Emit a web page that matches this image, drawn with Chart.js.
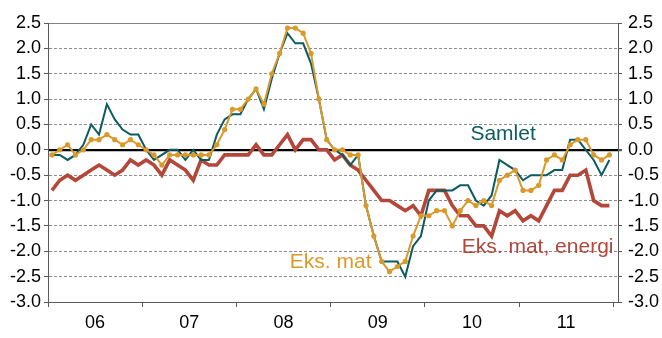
<!DOCTYPE html>
<html>
<head>
<meta charset="utf-8">
<script src="https://cdn.jsdelivr.net/npm/chart.js@4/dist/chart.umd.min.js"></script>
<style>
  html, body { margin: 0; padding: 0; background: #fff; }
  #wrap { width: 662px; height: 338px; }
</style>
</head>
<body>
<div id="wrap"><canvas id="c" width="662" height="338"></canvas></div>
<script>
// Year labels shown under the x axis (one per 12 monthly observations)
const yearLabels = ['06', '07', '08', '09', '10', '11'];

// Monthly readings, Jan 2006 - Dec 2011 (percent)
const samlet = [
  -0.1, -0.1, -0.2, -0.1, 0.1, 0.5, 0.3, 0.9, 0.6, 0.4, 0.3, 0.3,
  0.0, -0.2, -0.1, 0.0, 0.0, -0.2, 0.0, -0.2, -0.2, 0.3, 0.6, 0.7,
  0.7, 1.0, 1.2, 0.8, 1.4, 1.9, 2.3, 2.1, 2.1, 1.7, 1.0, 0.2,
  0.0, -0.1, -0.3, -0.1, -1.1, -1.7, -2.2, -2.2, -2.2, -2.5, -1.9, -1.7,
  -1.0, -0.8, -0.8, -0.8, -0.7, -0.7, -1.0, -1.1, -0.9, -0.2, -0.3, -0.4,
  -0.6, -0.5, -0.5, -0.5, -0.4, -0.4, 0.2, 0.2, 0.0, -0.2, -0.5, -0.2
];
const eksMat = [
  -0.1, 0.0, 0.1, -0.1, 0.0, 0.2, 0.2, 0.3, 0.2, 0.1, 0.2, 0.1,
  0.0, -0.1, -0.3, -0.1, -0.1, -0.1, -0.1, -0.1, -0.1, 0.1, 0.4, 0.8,
  0.8, 1.0, 1.2, 0.9, 1.5, 1.9, 2.4, 2.4, 2.3, 1.9, 1.0, 0.2,
  0.0, 0.0, -0.1, -0.1, -1.1, -1.7, -2.2, -2.4, -2.3, -2.2, -1.7, -1.3,
  -1.3, -1.2, -1.2, -1.5, -1.2, -1.0, -1.1, -1.0, -1.1, -0.6, -0.5, -0.4,
  -0.8, -0.8, -0.7, -0.2, -0.1, -0.2, 0.1, 0.2, 0.2, -0.1, -0.2, -0.1
];
const eksMatEnergi = [
  -0.8, -0.6, -0.5, -0.6, -0.5, -0.4, -0.3, -0.4, -0.5, -0.4, -0.2, -0.3,
  -0.2, -0.3, -0.5, -0.2, -0.3, -0.4, -0.6, -0.2, -0.3, -0.3, -0.1, -0.1,
  -0.1, -0.1, 0.1, -0.1, -0.1, 0.1, 0.3, 0.0, 0.2, 0.2, 0.0, 0.0,
  -0.2, -0.1, -0.3, -0.4, -0.6, -0.8, -1.0, -1.0, -1.1, -1.2, -1.1, -1.3,
  -0.8, -0.8, -0.8, -1.1, -1.3, -1.3, -1.5, -1.5, -1.7, -1.2, -1.3, -1.2,
  -1.4, -1.3, -1.4, -1.1, -0.8, -0.8, -0.5, -0.5, -0.4, -1.0, -1.1, -1.1
];

// Series names
const seriesNames = ['Samlet', 'Eks. mat', 'Eks. mat, energi'];

const TEAL = '#0b5b60';
const GOLD = '#d99a2b';
const BRICK = '#b3473a';
const AXIS = '#595959';
const FONT = '"Liberation Sans", Arial, Helvetica, sans-serif';

const toPoints = arr => arr.map((v, i) => ({ x: i, y: v }));

// Year boundaries (tick marks) and year centres (labels) in month units
const yearBounds = yearLabels.map((_, k) => k * 12 - 0.5).concat([yearLabels.length * 12 - 0.5]);
const yearCentres = yearLabels.map((_, k) => k * 12 + 5.5);
const xTickValues = yearBounds.concat(yearCentres).sort((a, b) => a - b);
const isBound = v => yearBounds.some(b => Math.abs(b - v) < 1e-6);

// In-plot series captions, anchored in data units
const captions = [
  { text: seriesNames[0], color: TEAL,  align: 'left',  at: [53.3, 0.31] },
  { text: seriesNames[1], color: GOLD,  align: 'right', at: [40.7, -2.21] },
  { text: seriesNames[2], color: BRICK, align: 'left',  at: [52.2, -1.92] }
];

const captionPlugin = {
  id: 'captions',
  afterDatasetsDraw(chart) {
    const { ctx, scales: { x, y } } = chart;
    ctx.save();
    ctx.font = '21px ' + FONT;
    ctx.textBaseline = 'middle';
    for (const c of captions) {
      ctx.fillStyle = c.color;
      ctx.textAlign = c.align;
      ctx.fillText(c.text, x.getPixelForValue(c.at[0]), y.getPixelForValue(c.at[1]));
    }
    ctx.restore();
  }
};

const yTickFmt = v => Number(v).toFixed(1);

new Chart(document.getElementById('c'), {
  type: 'line',
  data: {
    datasets: [
      {
        label: seriesNames[1], data: toPoints(eksMat),
        borderColor: GOLD, backgroundColor: GOLD, borderWidth: 2,
        pointRadius: 2.6, pointBorderWidth: 0, pointBackgroundColor: GOLD,
        tension: 0, order: 1
      },
      {
        label: seriesNames[0], data: toPoints(samlet),
        borderColor: TEAL, backgroundColor: TEAL, borderWidth: 2,
        pointRadius: 0, tension: 0, order: 2
      },
      {
        label: seriesNames[2], data: toPoints(eksMatEnergi),
        borderColor: BRICK, backgroundColor: BRICK, borderWidth: 3.6,
        pointRadius: 0, tension: 0, order: 3
      }
    ]
  },
  options: {
    responsive: false,
    animation: false,
    devicePixelRatio: 1,
    layout: { padding: { top: 23, left: 0, right: 0, bottom: 0 } },
    plugins: { legend: { display: false }, tooltip: { enabled: false } },
    scales: {
      x: {
        type: 'linear',
        min: -0.5,
        max: 72.1,
        afterBuildTicks(scale) { scale.ticks = xTickValues.map(v => ({ value: v })); },
        afterFit(scale) { scale.height = 36; },
        ticks: {
          autoSkip: false, maxRotation: 0, padding: 5,
          color: '#000', font: { family: FONT, size: 18 },
          callback: v => isBound(v) ? '' : yearLabels[Math.round((v - 5.5) / 12)]
        },
        grid: {
          drawOnChartArea: false, drawTicks: true, tickLength: 5,
          tickColor: ctx => (ctx.tick && isBound(ctx.tick.value)) ? AXIS : 'rgba(0,0,0,0)'
        },
        border: { color: AXIS, width: 1 }
      },
      y: {
        position: 'left',
        min: -3, max: 2.5,
        afterFit(scale) { scale.width = 48; },
        ticks: { stepSize: 0.5, padding: 3, color: '#000', font: { family: FONT, size: 18 }, callback: yTickFmt },
        grid: {
          tickLength: 4, tickColor: AXIS, lineWidth: 1,
          color: ctx => {
            const v = ctx.tick ? ctx.tick.value : null;
            return (v === 0 || v === 2.5 || v === -3) ? 'rgba(0,0,0,0)' : '#8c8c8c';
          }
        },
        border: { color: AXIS, width: 1, dash: [3, 2] }
      },
      y2: {
        position: 'right',
        min: -3, max: 2.5,
        afterFit(scale) { scale.width = 44; },
        ticks: { stepSize: 0.5, padding: 6, color: '#000', font: { family: FONT, size: 18 }, callback: yTickFmt },
        grid: {
          tickLength: 4, tickColor: AXIS,
          lineWidth: ctx => (ctx.tick && ctx.tick.value === 0) ? 2.2 : 1,
          color: ctx => {
            const v = ctx.tick ? ctx.tick.value : null;
            if (v === 0) return '#000';
            if (v === 2.5) return '#808080';
            return 'rgba(0,0,0,0)';
          }
        },
        border: { color: AXIS, width: 1 }
      }
    }
  },
  plugins: [captionPlugin]
});
</script>
</body>
</html>
